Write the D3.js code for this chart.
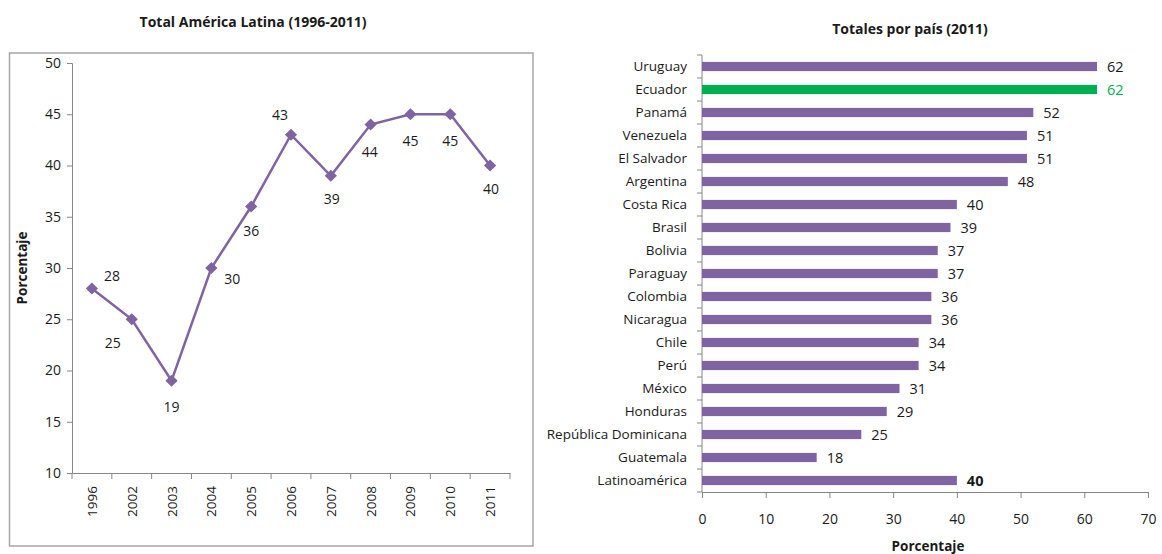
<!DOCTYPE html>
<html><head><meta charset="utf-8">
<script src="https://cdn.jsdelivr.net/npm/d3@7"></script>
<style>
body{margin:0;background:#fff;}
text{font-family:"Open Sans",Lato,sans-serif;fill:#1a1a1a;}
</style></head>
<body>
<svg id="c" width="1162" height="554"></svg>
<script>
const years = ["1996","2002","2003","2004","2005","2006","2007","2008","2009","2010","2011"];
const totals = [28,25,19,30,36,43,39,44,45,45,40];
// label placement per point: [dx, dy]
const labelPos = [[20,-13],[-19,24],[0,26],[21,11],[0,24],[-11,-20],[1,23],[-1,27],[0,27],[0,27],[1,23]];
const yTicksLeft = [10,15,20,25,30,35,40,45,50];

const countries = ["Uruguay","Ecuador","Panamá","Venezuela","El Salvador","Argentina","Costa Rica","Brasil","Bolivia","Paraguay","Colombia","Nicaragua","Chile","Perú","México","Honduras","República Dominicana","Guatemala","Latinoamérica"];
const countryValues = [62,62,52,51,51,48,40,39,37,37,36,36,34,34,31,29,25,18,40];
const highlight = "Ecuador";
const xTicksRight = [0,10,20,30,40,50,60,70];

const purple = "#8064A2", green = "#00B050", axisCol = "#868686";
const FONT = "Open Sans";
const svg = d3.select("#c");

// ---------- Left chart ----------
svg.append("rect").attr("x",9.5).attr("y",53).attr("width",523.5).attr("height",493)
  .attr("fill","none").attr("stroke","#a6a6a6").attr("stroke-width",1.5);
svg.append("text").attr("x",253).attr("y",27).attr("text-anchor","middle")
  .attr("font-weight","bold").attr("font-size",14).text("Total América  Latina  (1996-2011)");

const xL = d3.scaleBand().domain(years).range([72,510]);
const yL = d3.scaleLinear().domain([10,50]).range([473,63]);

const gy = svg.append("g").attr("transform","translate(72,0)")
  .call(d3.axisLeft(yL).tickValues(yTicksLeft).tickSize(5).tickPadding(6));
const gx = svg.append("g").attr("transform","translate(0,473)")
  .call(d3.axisBottom(xL).tickSize(0).tickFormat(""));
svg.append("g").selectAll("line").data(years.concat(["end"])).join("line")
  .attr("x1",(d,i)=>72+i*xL.step()).attr("x2",(d,i)=>72+i*xL.step())
  .attr("y1",473).attr("y2",479).attr("stroke",axisCol);
svg.append("g").selectAll("text").data(years).join("text")
  .attr("transform",d=>`translate(${xL(d)+xL.bandwidth()/2+5},486) rotate(-90)`)
  .attr("text-anchor","end").attr("font-size",13.5).text(d=>d);

[gy,gx].forEach(g=>{
  g.select(".domain").attr("stroke",axisCol);
  g.selectAll(".tick line").attr("stroke",axisCol);
  g.selectAll(".tick text").attr("font-size",14).attr("fill","#1a1a1a").attr("font-family",FONT);
});

svg.append("text").attr("transform","translate(27,268) rotate(-90)")
  .attr("text-anchor","middle").attr("font-weight","bold").attr("font-size",13.5).text("Porcentaje");

const cx = d=>xL(d)+xL.bandwidth()/2;
const line = d3.line().x((d,i)=>cx(years[i])).y(d=>yL(d));
svg.append("path").datum(totals).attr("d",line).attr("fill","none")
  .attr("stroke",purple).attr("stroke-width",2.5);
svg.append("g").selectAll("path").data(totals).join("path")
  .attr("d",d3.symbol(d3.symbolDiamond2,95)())
  .attr("transform",(d,i)=>`translate(${cx(years[i])},${yL(d)})`)
  .attr("fill",purple);
svg.append("g").selectAll("text").data(totals).join("text")
  .attr("x",(d,i)=>cx(years[i])+labelPos[i][0])
  .attr("y",(d,i)=>yL(d)+labelPos[i][1]+5)
  .attr("text-anchor","middle").attr("font-size",14).text(d=>d);

// ---------- Right chart ----------
svg.append("text").attr("x",910).attr("y",34).attr("text-anchor","middle")
  .attr("font-weight","bold").attr("font-size",14).text("Totales  por  país  (2011)");

const xR = d3.scaleLinear().domain([0,70]).range([702,1148]);
const yR = d3.scaleBand().domain(countries).range([55,492]).paddingInner(0.6).paddingOuter(0.3);

const gxr = svg.append("g").attr("transform","translate(0,492)")
  .call(d3.axisBottom(xR).tickValues(xTicksRight).tickSize(6).tickPadding(16));
gxr.select(".domain").attr("stroke",axisCol);
gxr.selectAll(".tick line").attr("stroke",axisCol);
gxr.selectAll(".tick text").attr("font-size",14).attr("fill","#1a1a1a").attr("font-family",FONT);

svg.append("line").attr("x1",702).attr("x2",702).attr("y1",55).attr("y2",492).attr("stroke",axisCol);
svg.append("g").selectAll("line").data(d3.range(countries.length+1)).join("line")
  .attr("x1",697).attr("x2",702)
  .attr("y1",i=>55+i*(437/countries.length)).attr("y2",i=>55+i*(437/countries.length))
  .attr("stroke",axisCol);

svg.append("g").selectAll("text").data(countries).join("text")
  .attr("x",687).attr("y",d=>yR(d)+yR.bandwidth()/2+4.5)
  .attr("text-anchor","end").attr("font-size",13.5).text(d=>d);

svg.append("g").selectAll("rect").data(countries).join("rect")
  .attr("x",xR(0)).attr("y",d=>yR(d))
  .attr("width",(d,i)=>xR(countryValues[i])-xR(0)).attr("height",yR.bandwidth())
  .attr("fill",d=>d===highlight?green:purple);

svg.append("g").selectAll("text").data(countries).join("text")
  .attr("x",(d,i)=>xR(countryValues[i])+10).attr("y",d=>yR(d)+yR.bandwidth()/2+5.5)
  .attr("font-size",14.5)
  .attr("font-weight",d=>d==="Latinoamérica"?"bold":"normal")
  .style("fill",d=>d===highlight?green:"#1a1a1a")
  .text((d,i)=>countryValues[i]);

svg.append("text").attr("x",928).attr("y",551).attr("text-anchor","middle")
  .attr("font-weight","bold").attr("font-size",13.5).text("Porcentaje");
</script>
</body></html>
